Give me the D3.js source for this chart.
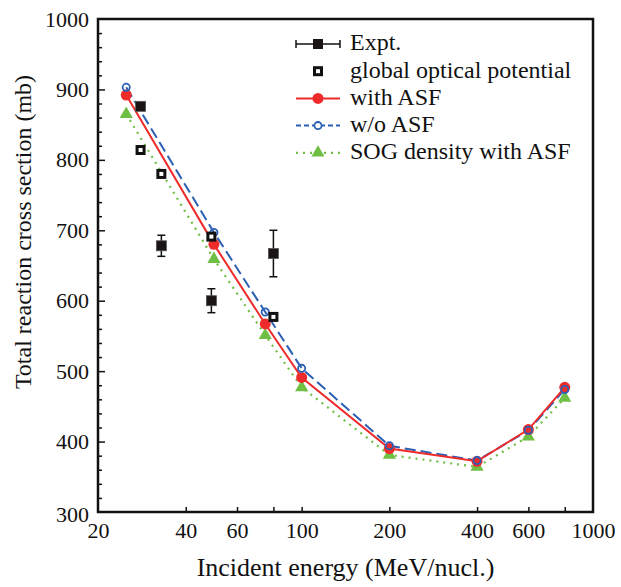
<!DOCTYPE html>
<html>
  <head>
    <title>Total reaction cross section</title>
    <script src="https://d3js.org/d3.v7.min.js"></script>
    <style>
      body { margin: 0; background: #fff; }
    </style>
  </head>
  <body>
    <svg width="621" height="587"></svg>
    <script>
      // model energies (MeV/nucl.) and cross sections (mb)
      const energies = [25, 50, 75, 100, 200, 400, 600, 800];
      const withASF = [892, 680, 567, 491, 390, 372, 417, 477];
      const woASF = [903, 697, 584, 504, 394, 373, 416, 474];
      const sogASF = [865, 659, 551, 477, 381, 364, 407, 462];

      // experiment and global optical potential
      const exptE = [28, 33, 49, 80];
      const exptVal = [876, 678, 600, 667];
      const exptErr = [5, 15, 17, 33];
      const gopE = [28, 33, 49, 80];
      const gopVal = [814, 780, 691, 577];

      const xTicks = [20, 40, 60, 80, 100, 200, 400, 600, 800, 1000];
      const xLabels = [20, 40, 60, 100, 200, 400, 600, 1000];
      const yTicks = [300, 400, 500, 600, 700, 800, 900, 1000];

      const font = "'Liberation Serif', 'Times New Roman', Times, serif";
      const margin = {top: 19, right: 28, bottom: 75, left: 98};
      const svg = d3.select("svg").attr("font-family", font);
      const width = +svg.attr("width");
      const height = +svg.attr("height");
      const innerWidth = width - margin.left - margin.right;
      const innerHeight = height - margin.top - margin.bottom;

      const xScale = d3.scaleLog().domain([20, 1000]).range([0, innerWidth]);
      const yScale = d3.scaleLinear().domain([300, 1000]).range([innerHeight, 0]);

      const g = svg.append("g").attr("transform", `translate(${margin.left},${margin.top})`);

      const red = "#ee2b2b", blue = "#2b5fb4", green = "#6fbf44";

      // axes with inward ticks
      const xAxis = d3.axisBottom(xScale)
        .tickValues(xTicks)
        .tickSize(-5)
        .tickPadding(10)
        .tickFormat(d => d);
      const gx = g.append("g").attr("transform", `translate(0,${innerHeight})`).call(xAxis);

      const yAxis = d3.axisLeft(yScale)
        .tickValues(yTicks)
        .tickSize(-7)
        .tickPadding(9)
        .tickFormat(d3.format("d"));
      const gy = g.append("g").call(yAxis);

      const yMinor = d3.axisLeft(yScale)
        .tickValues(d3.range(300, 1001, 20).filter(v => v % 100 !== 0))
        .tickSize(-4)
        .tickFormat("");
      const gm = g.append("g").call(yMinor);
      gm.selectAll("text").remove();

      g.selectAll(".domain").remove();
      g.selectAll("g").attr("font-family", font);
      g.selectAll(".tick line").attr("stroke", "#111").attr("stroke-width", 1.5);
      g.selectAll(".tick text").attr("font-size", 22).attr("fill", "#111");
      gx.selectAll(".tick").filter(d => !xLabels.includes(d)).select("text").remove();
      gx.selectAll(".tick").filter(d => d === 20 || d === 1000).select("line").remove();
      gy.selectAll(".tick").filter(d => d === 300 || d === 1000).select("line").remove();
      gy.selectAll(".tick text").filter(d => d === 300).attr("dy", "0.42em");

      // frame
      g.append("rect")
        .attr("width", innerWidth)
        .attr("height", innerHeight)
        .attr("fill", "none")
        .attr("stroke", "#111")
        .attr("stroke-width", 2.5);

      // axis titles
      g.append("text")
        .attr("x", innerWidth / 2)
        .attr("y", innerHeight + 64)
        .attr("text-anchor", "middle")
        .attr("font-size", 26)
        .attr("fill", "#111")
        .text("Incident energy (MeV/nucl.)");
      g.append("text")
        .attr("transform", `translate(${-margin.left + 31},${232 - margin.top}) rotate(-90)`)
        .attr("text-anchor", "middle")
        .attr("font-size", 24)
        .attr("fill", "#111")
        .text("Total reaction cross section (mb)");

      const line = d3.line()
        .x(d => xScale(d[0]))
        .y(d => yScale(d[1]));

      const series = [
        {vals: sogASF, color: green, dash: "2,5", width: 2.2},
        {vals: woASF, color: blue, dash: "11,5", width: 2},
        {vals: withASF, color: red, dash: null, width: 2}
      ];
      series.forEach(s => {
        g.append("path")
          .datum(energies.map((e, i) => [e, s.vals[i]]))
          .attr("fill", "none")
          .attr("stroke", s.color)
          .attr("stroke-width", s.width)
          .attr("stroke-dasharray", s.dash)
          .attr("d", line);
      });

      const tri = d3.symbol().type(d3.symbolTriangle).size(75);

      // markers
      g.selectAll(".sog").data(energies).enter().append("path")
        .attr("transform", (d, i) => `translate(${xScale(d)},${yScale(sogASF[i])})`)
        .attr("d", tri)
        .attr("fill", green);
      g.selectAll(".with").data(energies).enter().append("circle")
        .attr("cx", d => xScale(d))
        .attr("cy", (d, i) => yScale(withASF[i]))
        .attr("r", 5.5)
        .attr("fill", red);
      g.selectAll(".wo").data(energies).enter().append("circle")
        .attr("cx", d => xScale(d))
        .attr("cy", (d, i) => yScale(woASF[i]))
        .attr("r", 3.6)
        .attr("fill", "none")
        .attr("stroke", blue)
        .attr("stroke-width", 1.8);

      // global optical potential: open squares
      g.selectAll(".gop").data(gopE).enter().append("rect")
        .attr("x", d => xScale(d) - 3.5)
        .attr("y", (d, i) => yScale(gopVal[i]) - 3.5)
        .attr("width", 7)
        .attr("height", 7)
        .attr("fill", "#fff")
        .attr("stroke", "#111")
        .attr("stroke-width", 3);

      // experiment with error bars
      const expt = g.selectAll(".expt").data(exptE).enter().append("g")
        .attr("transform", (d, i) => `translate(${xScale(d)},0)`);
      expt.append("line")
        .attr("y1", (d, i) => yScale(exptVal[i] - exptErr[i]))
        .attr("y2", (d, i) => yScale(exptVal[i] + exptErr[i]))
        .attr("stroke", "#111").attr("stroke-width", 1.5);
      [-1, 1].forEach(sgn => {
        expt.append("line")
          .attr("x1", -4).attr("x2", 4)
          .attr("y1", (d, i) => yScale(exptVal[i] + sgn * exptErr[i]))
          .attr("y2", (d, i) => yScale(exptVal[i] + sgn * exptErr[i]))
          .attr("stroke", "#111").attr("stroke-width", 1.5);
      });
      expt.append("rect")
        .attr("x", -5).attr("width", 10).attr("height", 10)
        .attr("y", (d, i) => yScale(exptVal[i]) - 5)
        .attr("fill", "#1a1414")
        .attr("stroke", "#555").attr("stroke-width", 0.8);

      // legend
      const legendItems = ["Expt.", "global optical potential", "with ASF", "w/o ASF", "SOG density with ASF"];
      const lg = g.append("g").attr("transform", `translate(${296 - margin.left},${44 - margin.top})`);
      const rowH = 27.2;
      lg.selectAll("text").data(legendItems).enter().append("text")
        .attr("x", 54)
        .attr("y", (d, i) => i * rowH)
        .attr("dy", "0.27em")
        .attr("font-size", 24)
        .attr("fill", "#111")
        .text(d => d);

      // Expt. sample
      lg.append("line").attr("x1", 0).attr("x2", 44).attr("y1", 0).attr("y2", 0)
        .attr("stroke", "#111").attr("stroke-width", 1.5);
      [0, 44].forEach(x => lg.append("line").attr("x1", x).attr("x2", x).attr("y1", -4).attr("y2", 4)
        .attr("stroke", "#111").attr("stroke-width", 1.5));
      lg.append("rect").attr("x", 17).attr("y", -5).attr("width", 10).attr("height", 10).attr("fill", "#1a1414");
      // global optical potential sample
      lg.append("rect").attr("x", 18.5).attr("y", rowH - 3.5).attr("width", 7).attr("height", 7)
        .attr("fill", "#fff").attr("stroke", "#111").attr("stroke-width", 3);
      // with ASF
      lg.append("line").attr("x1", 0).attr("x2", 44).attr("y1", 2 * rowH).attr("y2", 2 * rowH)
        .attr("stroke", red).attr("stroke-width", 2);
      lg.append("circle").attr("cx", 22).attr("cy", 2 * rowH).attr("r", 5.5).attr("fill", red);
      // w/o ASF
      lg.append("line").attr("x1", 0).attr("x2", 44).attr("y1", 3 * rowH).attr("y2", 3 * rowH)
        .attr("stroke", blue).attr("stroke-width", 2).attr("stroke-dasharray", "5,3");
      lg.append("circle").attr("cx", 22).attr("cy", 3 * rowH).attr("r", 3.6)
        .attr("fill", "#fff").attr("stroke", blue).attr("stroke-width", 1.8);
      // SOG
      lg.append("line").attr("x1", 0).attr("x2", 44).attr("y1", 4 * rowH).attr("y2", 4 * rowH)
        .attr("stroke", green).attr("stroke-width", 2.2).attr("stroke-dasharray", "2,5");
      lg.append("path").attr("transform", `translate(22,${4 * rowH})`).attr("d", tri).attr("fill", green);
    </script>
  </body>
</html>
